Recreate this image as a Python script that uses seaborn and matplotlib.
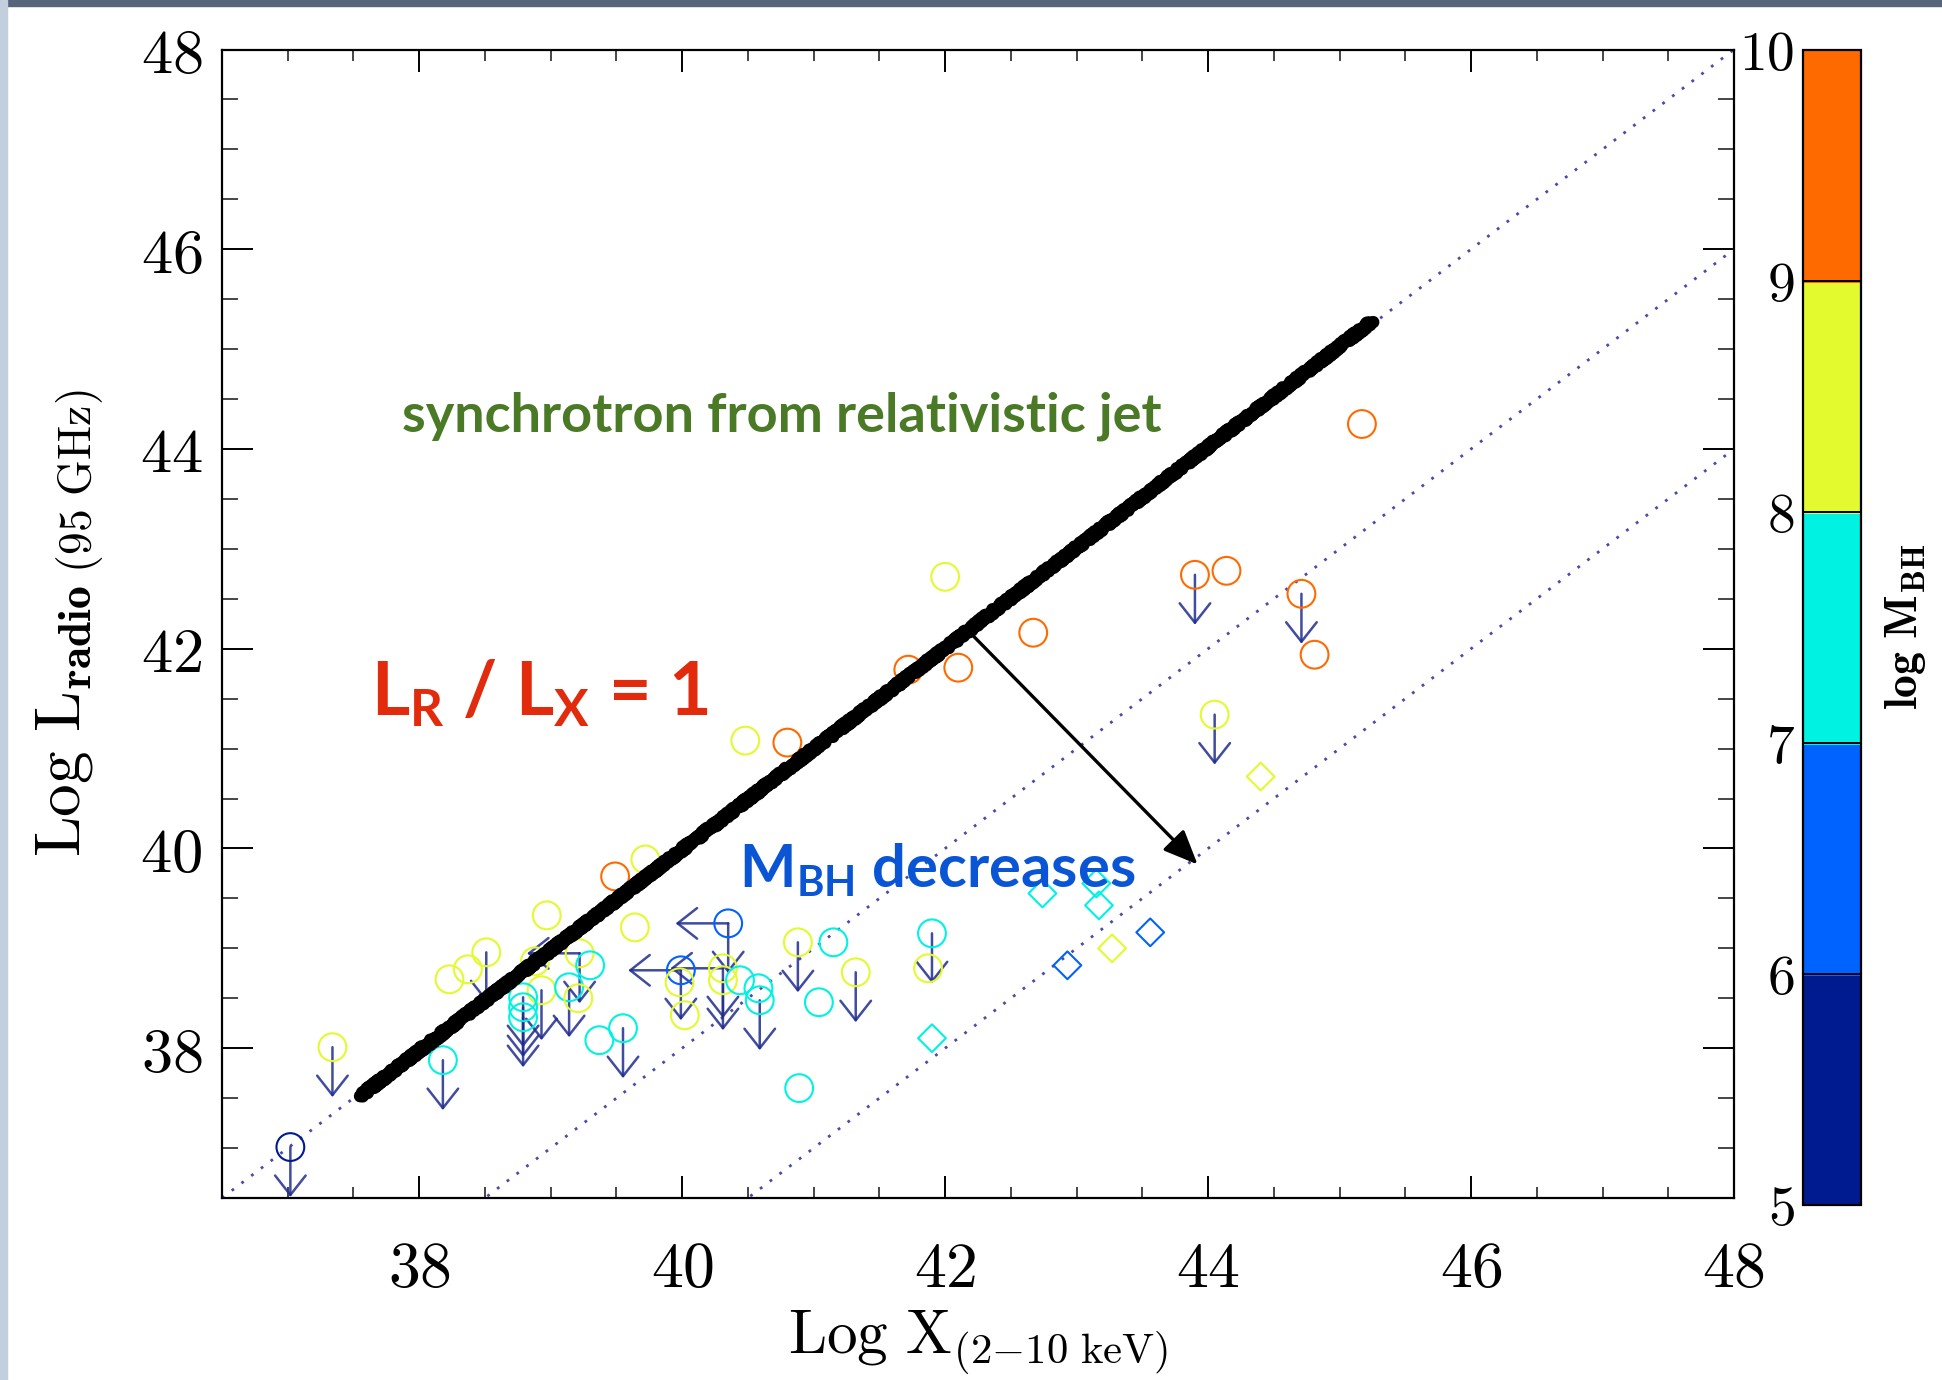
import numpy as np
import pandas as pd
import matplotlib
matplotlib.use("Agg")
import matplotlib as mpl
import matplotlib.pyplot as plt
import seaborn as sns
from matplotlib.colors import ListedColormap, BoundaryNorm
from matplotlib.ticker import MultipleLocator, FuncFormatter
from matplotlib.patches import Rectangle

# ---------------- data ----------------
log_x = [37.02, 37.34, 38.18, 38.23, 38.37, 38.51, 38.97, 39.64, 39.22, 39.30,
         38.88, 38.93, 39.14, 39.21, 38.79, 38.79, 38.79, 39.37, 39.55, 39.49,
         39.72, 40.35, 39.99, 39.98, 40.02, 40.31, 40.31, 40.44, 40.58, 40.59,
         40.88, 41.15, 41.04, 41.32, 40.89, 41.90, 41.87, 42.00, 43.90, 44.14,
         44.71, 44.81, 42.67, 41.72, 42.10, 40.48, 40.80, 44.05, 45.17,
         41.90, 42.74, 43.17, 43.15, 42.93, 43.27, 43.56, 44.40]
log_radio = [37.01, 38.01, 37.88, 38.69, 38.79, 38.96, 39.33, 39.21, 38.95, 38.83,
             38.87, 38.58, 38.61, 38.50, 38.51, 38.41, 38.31, 38.08, 38.20, 39.72,
             39.89, 39.25, 38.78, 38.66, 38.33, 38.80, 38.68, 38.68, 38.60, 38.48,
             39.06, 39.06, 38.46, 38.76, 37.60, 39.15, 38.80, 42.72, 42.74, 42.78,
             42.55, 41.94, 42.16, 41.79, 41.81, 41.08, 41.06, 41.34, 44.25,
             38.10, 39.55, 39.43, 39.65, 38.83, 39.00, 39.16, 40.72]
log_mbh = [5.5, 8.5, 7.5, 8.5, 8.5, 8.5, 8.5, 8.5, 8.5, 7.5,
           8.5, 8.5, 7.5, 8.5, 7.5, 7.5, 7.5, 7.5, 7.5, 9.5,
           8.5, 6.5, 6.5, 8.5, 8.5, 8.5, 8.5, 7.5, 7.5, 7.5,
           8.5, 7.5, 7.5, 8.5, 7.5, 7.5, 8.5, 8.5, 9.5, 9.5,
           9.5, 9.5, 9.5, 9.5, 9.5, 8.5, 9.5, 8.5, 9.5,
           7.5, 7.5, 7.5, 7.5, 6.5, 8.5, 6.5, 8.5]
marker_kind = ["circle"] * 49 + ["diamond"] * 8
radio_upper_limit = [1, 1, 1, 0, 0, 1, 0, 0, 1, 0,
                     0, 1, 1, 0, 1, 1, 1, 0, 1, 0,
                     0, 1, 1, 0, 0, 1, 1, 0, 0, 1,
                     1, 0, 0, 1, 0, 1, 0, 0, 1, 0,
                     1, 0, 0, 0, 0, 0, 0, 1, 0,
                     0, 0, 0, 0, 0, 0, 0, 0]
xray_upper_limit = [0, 0, 0, 0, 0, 0, 0, 0, 1, 0,
                    0, 0, 0, 0, 0, 0, 0, 0, 0, 0,
                    0, 1, 1, 0, 0, 1, 0, 0, 0, 0,
                    0, 0, 0, 0, 0, 0, 0, 0, 0, 0,
                    0, 0, 0, 0, 0, 0, 0, 0, 0,
                    0, 0, 0, 0, 0, 0, 0, 0]

mass_edges = [5, 6, 7, 8, 9, 10]
mass_colors = ["#001a8f", "#0062ff", "#00f2e2", "#e2fa2e", "#ff6a00"]
ratio_offsets = [0, -2, -4]            # log L_R/L_X = 0, -2, -4
jet_line_x = [37.55, 45.25]
jet_line_y = [37.52, 45.28]
shift_arrow_x = [42.22, 43.92]
shift_arrow_y = [42.12, 39.84]
axis_ticks = [38, 40, 42, 44, 46, 48]
axis_lim = (36.5, 48)
ylim_arrow_len = 0.5
xlim_arrow_len = 0.4

df = pd.DataFrame({"lx": log_x, "lr": log_radio, "logm": log_mbh,
                   "kind": marker_kind})

# ---------------- style ----------------
sns.set_theme(style="ticks")
plt.rcParams["mathtext.fontset"] = "cm"
plt.rcParams["mathtext.rm"] = "Lato:bold"
plt.rcParams["mathtext.it"] = "Lato:bold"
plt.rcParams["mathtext.bf"] = "Lato:bold"
plt.rcParams["font.family"] = ["Lato", "DejaVu Sans"]

W, H = 1942, 1380
fig = plt.figure(figsize=(W / 100, H / 100), dpi=100, facecolor="white")
ax = fig.add_axes([222 / W, 1 - 1198 / H, (1734 - 222) / W, (1198 - 49.5) / H])

# slide-background strips
fig.add_artist(Rectangle((0, 1 - 6 / H), 1, 6 / H, transform=fig.transFigure,
                         color="#56657a", zorder=0))
fig.add_artist(Rectangle((0, 0), 7 / W, 1, transform=fig.transFigure,
                         color="#c3cfdc", zorder=0))

cmap = ListedColormap(mass_colors)
norm = BoundaryNorm(mass_edges, cmap.N)

# dotted constant-ratio lines
xx = np.array(axis_lim)
for off in ratio_offsets:
    sns.lineplot(x=xx, y=xx + off, ax=ax, color="#4a4aa8", lw=2.0,
                 linestyle=(0, (1, 3.4)), zorder=1)

# thick hand-drawn L_R/L_X = 1 line
jl = ax.plot(jet_line_x, jet_line_y, color="black", lw=9,
             solid_capstyle="round", zorder=4)[0]
jl.set_sketch_params(scale=2.2, length=5, randomness=3)

# upper-limit arrows
arrow_col = "#1f2d8f"
astyle = "->,head_length=0.7,head_width=0.55"
for xi, yi, ur, ux in zip(log_x, log_radio, radio_upper_limit, xray_upper_limit):
    if ur:
        ax.annotate("", xy=(xi, yi - ylim_arrow_len), xytext=(xi, yi),
                    arrowprops=dict(arrowstyle=astyle, mutation_scale=20,
                                    color=arrow_col, lw=1.8, alpha=0.85,
                                    shrinkA=0, shrinkB=0),
                    annotation_clip=False, zorder=2)
    if ux:
        ax.annotate("", xy=(xi - xlim_arrow_len, yi), xytext=(xi, yi),
                    arrowprops=dict(arrowstyle=astyle, mutation_scale=20,
                                    color=arrow_col, lw=1.8, alpha=0.85,
                                    shrinkA=0, shrinkB=0),
                    annotation_clip=False, zorder=2)

# hollow markers coloured by black-hole mass
sns.scatterplot(data=df, x="lx", y="lr", hue="logm", palette=cmap, hue_norm=norm,
                style="kind", markers={"circle": "o", "diamond": "D"},
                size="kind", sizes={"circle": 400, "diamond": 200},
                linewidth=1.5, legend=False, ax=ax, zorder=3)
coll = ax.collections[-1]
fcs = coll.get_facecolors()
coll.set_edgecolors(fcs)
coll.set_facecolors("none")

# mass-shift arrow
ax.annotate("", xy=(shift_arrow_x[1], shift_arrow_y[1]),
            xytext=(shift_arrow_x[0], shift_arrow_y[0]),
            arrowprops=dict(arrowstyle="-|>,head_length=0.7,head_width=0.3",
                            mutation_scale=30, color="black", lw=2.4,
                            shrinkA=0, shrinkB=0), zorder=5)

# annotations
ax.text(40.76, 44.18, "synchrotron from relativistic jet", color="#4b7a27",
        fontsize=39, fontweight="bold", ha="center", va="baseline", zorder=6)
ax.text(38.92, 41.33, r"L$_\mathrm{R}$ / L$_\mathrm{X}$ = 1", color="#e22a0c",
        fontsize=53, fontweight="bold", ha="center", va="baseline",
        math_fontfamily="custom", zorder=6)
ax.text(41.94, 39.61, r"M$_\mathrm{BH}$ decreases", color="#0a55d5",
        fontsize=43, fontweight="bold", ha="center", va="baseline",
        math_fontfamily="custom", zorder=6)

# axes styling
ax.set_xlim(axis_lim)
ax.set_ylim(axis_lim)
ax.set_facecolor("white")
for sp in ax.spines.values():
    sp.set_linewidth(1.6)
    sp.set_color("black")
ax.set_xticks(axis_ticks)
ax.set_yticks(axis_ticks)
ax.xaxis.set_minor_locator(MultipleLocator(0.5))
ax.yaxis.set_minor_locator(MultipleLocator(0.5))
fmt = FuncFormatter(lambda v, p: r"$%d$" % round(v))
ax.xaxis.set_major_formatter(fmt)
ax.yaxis.set_major_formatter(fmt)
ax.tick_params(axis="x", which="major", direction="in", length=15.8, width=1.4,
               top=True, bottom=True, labelsize=46, pad=30, colors="black")
ax.tick_params(axis="x", which="minor", direction="in", length=7.9, width=1.2,
               top=True, bottom=True)
ax.tick_params(axis="y", which="major", direction="in", length=22.3, width=1.4,
               left=True, right=True, labelsize=45, pad=14, colors="black")
ax.tick_params(axis="y", which="minor", direction="in", length=11.5, width=1.2,
               left=True, right=True)
ax.set_xlabel(r"$\mathrm{Log\ X}_{(2{-}10\ \mathrm{keV})}$", fontsize=44,
              labelpad=8, color="black")
ax.set_ylabel(r"$\mathrm{Log\ L}_{\mathbf{radio}\ (95\ \mathrm{GHz})}$",
              fontsize=47, labelpad=24, color="black")

# colourbar
cax = fig.add_axes([1803 / W, 1 - 1205 / H, (1861 - 1803) / W, (1205 - 49.5) / H])
sm = mpl.cm.ScalarMappable(norm=norm, cmap=cmap)
cb = fig.colorbar(sm, cax=cax, ticks=mass_edges)
cb.outline.set_linewidth(1.6)
cb.outline.set_edgecolor("black")
cax.yaxis.set_ticks_position("left")
cax.yaxis.set_label_position("right")
cax.yaxis.set_major_formatter(fmt)
cax.tick_params(axis="y", length=0, labelsize=40, pad=6, colors="black")
cax.minorticks_off()
cb.set_label(r"$\mathbf{log\ M_{BH}}$", fontsize=33, labelpad=16, color="black")
cb.solids.set_edgecolor("face")
for b in mass_edges[1:-1]:
    cax.axhline(b, color="black", lw=1.4)

fig.savefig("out.png", dpi=100, facecolor="white")
